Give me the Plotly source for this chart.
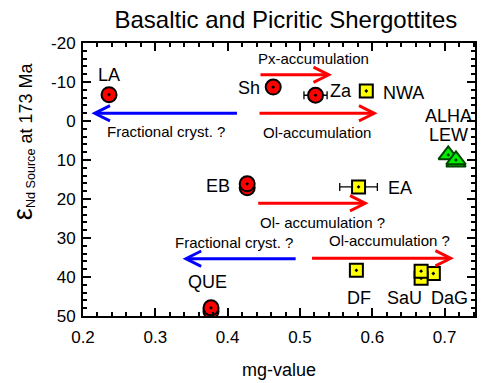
import plotly.graph_objects as go

# ---------------- data ----------------
circle_names = ["LA", "Sh", "Za", "EB", "EB", "QUE", "QUE"]
circle_x = [0.236, 0.463, 0.5215, 0.427, 0.427, 0.377, 0.377]
circle_y = [-6.75, -8.7, -6.6, 17.1, 16.1, 48.75, 47.9]
circle_xerr = [None, None, 0.016, None, None, None, None]

square_names = ["NWA", "EA", "DF", "DaG", "SaU", "SaU"]
square_x = [0.5917, 0.581, 0.578, 0.6844, 0.6675, 0.6675]
square_y = [-7.7, 16.9, 38.3, 39.1, 40.35, 38.5]
square_xerr = [None, 0.026, None, None, None, None]

tri_names = ["ALHA", "LEW", "LEW"]
tri_x = [0.705, 0.7157, 0.7157]
tri_y = [8.7, 10.6, 10.0]

label_text = ["LA", "Sh", "Za", "NWA", "ALHA", "LEW", "EB", "EA", "QUE", "DF", "SaU", "DaG"]
label_x = [0.2358, 0.4296, 0.5573, 0.643, 0.706, 0.706, 0.386, 0.6386, 0.3722, 0.5811, 0.6445, 0.7065]
label_y = [-11.8, -8.4, -7.8, -7.25, -1.4, 3.5, 16.7, 17.3, 41.35, 45.4, 45.4, 45.4]

# arrows: tail -> head
arrow_tail_x = [0.4433, 0.442, 0.4149, 0.4402, 0.4961, 0.5146]
arrow_head_x = [0.5444, 0.6073, 0.2116, 0.5949, 0.3377, 0.713]
arrow_y = [-11.85, -1.97, -1.97, 21.1, 35.3, 35.2]
arrow_color = ["red", "red", "blue", "red", "blue", "red"]

note_text = ["Px-accumulation", "Ol-accumulation", "Fractional cryst. ?",
             "Ol- accumulation ?", "Fractional cryst. ?", "Ol-accumulation ?"]
note_x = [0.5185, 0.5233, 0.3149, 0.5315, 0.409, 0.6236]
note_y = [-16.0, 3.06, 2.8, 26.1, 31.1, 30.7]

x_range = [0.2, 0.742]
x_tick_vals = [0.2, 0.3, 0.4, 0.5, 0.6, 0.7]
x_tick_text = ["0.2", "0.3", "0.4", "0.5", "0.6", "0.7"]
y_range = [50, -20]
y_tick_vals = [-20, -10, 0, 10, 20, 30, 40, 50]
y_tick_text = ["-20", "-10", "0", "10", "20", "30", "40", "50"]

FONT = "Liberation Sans, Arial, Helvetica, sans-serif"

fig = go.Figure()

fig.add_trace(go.Scatter(
    x=tri_x, y=tri_y, mode="markers",
    marker=dict(symbol="triangle-up-dot", size=17, color="#00ee00",
                line=dict(color="#004400", width=2)),
    hoverinfo="skip", showlegend=False))

fig.add_trace(go.Scatter(
    x=square_x, y=square_y, mode="markers",
    error_x=dict(type="data", array=square_xerr, color="black", thickness=1.3, width=4),
    marker=dict(symbol="square-dot", size=13, color="#ffff00",
                line=dict(color="black", width=2)),
    hoverinfo="skip", showlegend=False))

fig.add_trace(go.Scatter(
    x=circle_x, y=circle_y, mode="markers",
    error_x=dict(type="data", array=circle_xerr, color="black", thickness=1.3, width=4),
    marker=dict(symbol="circle-dot", size=15, color="#ff0000",
                line=dict(color="black", width=2)),
    hoverinfo="skip", showlegend=False))

annotations = []
for t, x, y in zip(label_text, label_x, label_y):
    annotations.append(dict(x=x, y=y, xref="x", yref="y", text=t, showarrow=False,
                            font=dict(family=FONT, size=18, color="black"),
                            xanchor="center", yanchor="middle"))
for t, x, y in zip(note_text, note_x, note_y):
    annotations.append(dict(x=x, y=y, xref="x", yref="y", text=t, showarrow=False,
                            font=dict(family=FONT, size=15, color="black"),
                            xanchor="center", yanchor="middle"))
for tx, hx, y, c in zip(arrow_tail_x, arrow_head_x, arrow_y, arrow_color):
    annotations.append(dict(x=hx, y=y, ax=tx, ay=y, xref="x", yref="y", axref="x", ayref="y",
                            text="", showarrow=True, arrowhead=5, arrowsize=1.0,
                            arrowwidth=3, arrowcolor=c, standoff=0, startstandoff=0))

# y-axis title
annotations.append(dict(
    x=-0.152, y=0.642, xref="paper", yref="paper", textangle=-90,
    text="<span style='font-size:27px'>ε</span><sub>Nd Source</sub> at 173 Ma",
    showarrow=False, font=dict(family=FONT, size=18, color="black"),
    xanchor="center", yanchor="middle"))

axis_common = dict(
    showline=True, linewidth=2, linecolor="black", mirror="allticks",
    ticks="inside", ticklen=8, tickwidth=1.5, tickcolor="black",
    showgrid=False, zeroline=False,
    tickfont=dict(family=FONT, size=17, color="black"),
)

fig.update_layout(
    width=483, height=383,
    margin=dict(l=83, r=6, t=43, b=61),
    paper_bgcolor="white", plot_bgcolor="white",
    title=dict(text="Basaltic and Picritic Shergottites", x=0.592, xanchor="center",
               y=0.95, yanchor="middle",
               font=dict(family=FONT, size=24, color="black")),
    xaxis=dict(range=x_range, tickvals=x_tick_vals, ticktext=x_tick_text,
               ticklabelstandoff=5,
               minor=dict(dtick=0.02, tick0=0.2, ticks="inside", ticklen=4, tickwidth=1.5, tickcolor="black"),
               title=dict(text="mg-value", font=dict(family=FONT, size=18, color="black"), standoff=17),
               **axis_common),
    yaxis=dict(range=y_range, tickvals=y_tick_vals, ticktext=y_tick_text,
               ticklabelstandoff=2,
               minor=dict(dtick=2, tick0=-20, ticks="inside", ticklen=4, tickwidth=1.5, tickcolor="black"),
               **axis_common),
    annotations=annotations,
    font=dict(family=FONT),
)

fig.write_html("out.html")
